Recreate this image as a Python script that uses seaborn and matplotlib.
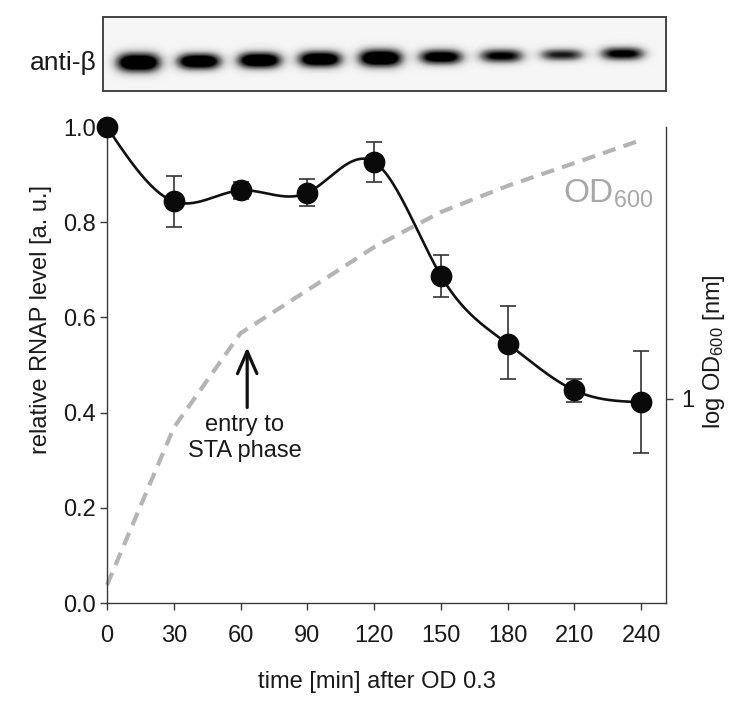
import numpy as np
import pandas as pd
import matplotlib
matplotlib.use("Agg")
from matplotlib import pyplot as plt
import seaborn as sns

# RNAP level (western blot quantification) and culture growth
time_min = [0, 30, 60, 90, 120, 150, 180, 210, 240]
rnap_level = [1.0, 0.844, 0.867, 0.862, 0.927, 0.688, 0.545, 0.447, 0.422]
rnap_err_lo = [0.0, 0.054, 0.017, 0.027, 0.043, 0.045, 0.075, 0.024, 0.106]
rnap_err_hi = [0.0, 0.053, 0.018, 0.028, 0.042, 0.043, 0.079, 0.024, 0.107]
od600 = [0.30, 0.83, 1.53, 2.02, 2.67, 3.35, 3.97, 4.60, 5.34]

# blot bands (one per lane), darkness and thickness
band_intensity = [1.0, 0.95, 0.96, 0.94, 0.98, 0.84, 0.72, 0.62, 0.74]
band_thickness = [6.8, 5.8, 5.8, 5.8, 6.3, 5.4, 5.0, 4.4, 4.8]

xticks = [0, 30, 60, 90, 120, 150, 180, 210, 240]
yticks = [0.0, 0.2, 0.4, 0.6, 0.8, 1.0]

sns.set_style("ticks")
plt.rcParams['font.family'] = ['Liberation Sans', 'DejaVu Sans']
plt.rcParams['mathtext.fontset'] = 'custom'
plt.rcParams['mathtext.rm'] = 'Liberation Sans'
plt.rcParams['mathtext.it'] = 'Liberation Sans:italic'
plt.rcParams['axes.edgecolor'] = '#3a3a3a'
plt.rcParams['xtick.color'] = '#3a3a3a'
plt.rcParams['ytick.color'] = '#3a3a3a'
plt.rcParams['xtick.labelcolor'] = '#1a1a1a'
plt.rcParams['ytick.labelcolor'] = '#1a1a1a'


def natural_spline(x, y, xs):
    # smooth curve through the points, like the original graph program
    x = np.asarray(x, float)
    y = np.asarray(y, float)
    n = len(x)
    h = np.diff(x)
    A = np.zeros((n, n))
    b = np.zeros(n)
    A[0, 0] = A[-1, -1] = 1
    for i in range(1, n - 1):
        A[i, i - 1] = h[i - 1]
        A[i, i] = 2 * (h[i - 1] + h[i])
        A[i, i + 1] = h[i]
        b[i] = 6 * ((y[i + 1] - y[i]) / h[i] - (y[i] - y[i - 1]) / h[i - 1])
    M = np.linalg.solve(A, b)
    idx = np.clip(np.searchsorted(x, xs) - 1, 0, n - 2)
    x0, x1 = x[idx], x[idx + 1]
    hh = x1 - x0
    t0, t1 = x1 - xs, xs - x0
    return (M[idx] * t0**3 / (6 * hh) + M[idx + 1] * t1**3 / (6 * hh)
            + (y[idx] / hh - M[idx] * hh / 6) * t0
            + (y[idx + 1] / hh - M[idx + 1] * hh / 6) * t1)


df = pd.DataFrame({'time': time_min, 'rnap': rnap_level, 'od': od600})
t_fine = np.linspace(min(time_min), max(time_min), 400)
curve = pd.DataFrame({'time': t_fine, 'rnap': natural_spline(time_min, rnap_level, t_fine)})

fig = plt.figure(figsize=(7.36, 7.02), dpi=100)
ax = fig.add_axes([107 / 736, 1 - 603 / 702, 559 / 736, 483 / 702])
ax2 = ax.twinx()

# growth curve (right axis, log)
sns.lineplot(data=df, x='time', y='od', ax=ax2, color='#b4b4b4', lw=3,
             dashes=False, clip_on=False)
ax2.lines[0].set_dashes([3.2, 2.0])
ax2.set_yscale('log')
ax2.set_ylim(0.267, 6.08)
ax2.set_yticks([1])
ax2.set_yticklabels(['1'])
ax2.minorticks_off()
ax2.tick_params(axis='y', direction='out', length=5, width=1, labelsize=17, pad=6)
for s in ['top', 'left', 'bottom']:
    ax2.spines[s].set_visible(False)
ax2.spines['right'].set_linewidth(1.0)
ax2.spines['right'].set_bounds(0.267, 5.8)
ax2.set_ylabel(r'log OD$_{600}$ [nm]', fontsize=17, color='#1a1a1a')
ax2.yaxis.set_label_coords(1.063, 0.52)

# RNAP curve on top
ax.set_zorder(ax2.get_zorder() + 1)
ax.patch.set_visible(False)
sns.lineplot(data=curve, x='time', y='rnap', ax=ax, color='#111111', lw=1.9)
ax.errorbar(time_min, rnap_level, yerr=[rnap_err_lo, rnap_err_hi], fmt='none',
            ecolor='#333333', elinewidth=1.2, capsize=5.5, capthick=1.2, zorder=3)
sns.scatterplot(data=df, x='time', y='rnap', ax=ax, color='#0a0a0a', s=210,
                edgecolor='#0a0a0a', zorder=4, clip_on=False)

ax.set_xlim(0, 251.2)
ax.set_ylim(0, 1.015)
ax.set_xticks(xticks)
ax.set_yticks(yticks)
ax.set_yticklabels([f'{v:.1f}' for v in yticks])
ax.tick_params(axis='x', direction='out', length=5, width=1, labelsize=17, pad=11)
ax.tick_params(axis='y', direction='out', length=5, width=1, labelsize=17, pad=3)
ax.spines['top'].set_visible(False)
ax.spines['right'].set_visible(False)
ax.spines['left'].set_linewidth(1.0)
ax.spines['bottom'].set_linewidth(1.0)
ax.set_xlabel('time [min] after OD 0.3', fontsize=17, color='#1a1a1a')
ax.set_ylabel('relative RNAP level [a. u.]', fontsize=17, color='#1a1a1a')
ax.xaxis.set_label_coords(0.483, -0.14)
ax.yaxis.set_label_coords(-0.098, 0.586)

ax.annotate('', xy=(63, 0.543), xytext=(63, 0.405),
            arrowprops=dict(arrowstyle='->,head_length=0.8,head_width=0.35',
                            mutation_scale=20, lw=2.3, color='#111111'))
ax.text(62, 0.397, 'entry to\nSTA phase', ha='center', va='top', fontsize=17,
        color='#1a1a1a', linespacing=1.25)
ax.text(205, 0.842, r'OD$_{600}$', ha='left', va='baseline', fontsize=24,
        color='#a8a8a8')

# western blot strip
bx = fig.add_axes([103 / 736, 1 - 91 / 702, 563 / 736, 74 / 702])
W, H = 563, 74
gx, gy = np.meshgrid(np.arange(W), np.arange(H))
img = np.zeros((H, W))
for i, (inten, thick) in enumerate(zip(band_intensity, band_thickness)):
    cx = 35 + 60.5 * i
    cy = 45 - 1.1 * i
    img += inten * np.exp(-(np.abs(gx - cx) / 22.0) ** 3.2) * np.exp(-0.5 * ((gy - cy) / thick) ** 2)
img = np.clip(img * 1.5, 0, 1)
bx.imshow(img, cmap='Greys', vmin=-0.08, vmax=1.0, aspect='auto',
          extent=(0, W, H, 0), interpolation='bilinear')
bx.set_xticks([])
bx.set_yticks([])
for s in bx.spines.values():
    s.set_visible(True)
    s.set_linewidth(1.4)
    s.set_color('#444444')
fig.text(97 / 736, 1 - 63 / 702, 'anti-β', ha='right', va='center', fontsize=19,
         color='#1a1a1a')

fig.savefig('out.png', dpi=100)
